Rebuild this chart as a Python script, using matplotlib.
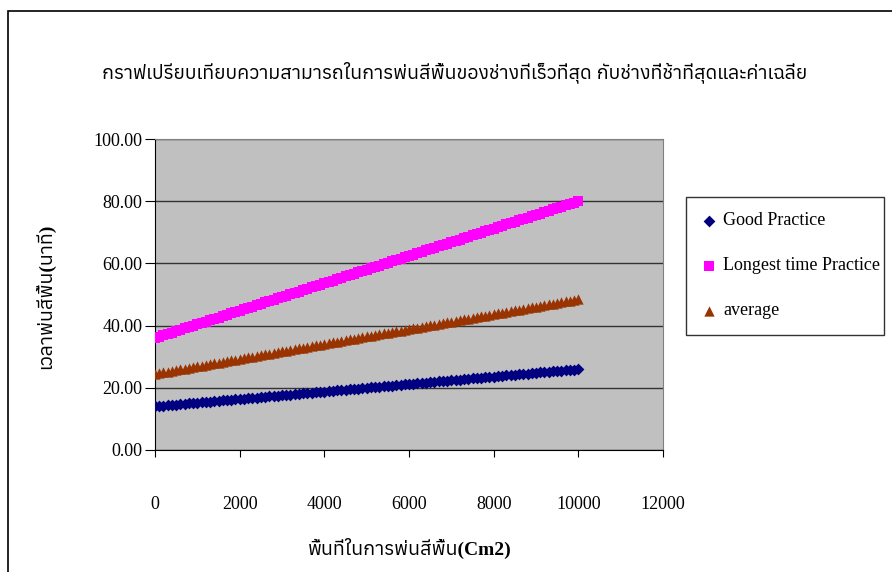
import matplotlib
matplotlib.use("Agg")
import matplotlib.pyplot as plt
from matplotlib import font_manager
from matplotlib.ft2font import FT2Font
from matplotlib.patches import Rectangle

# area sprayed (cm2)
area = list(range(0, 10100, 100))

good = [14.00, 14.12, 14.24, 14.36, 14.48, 14.60, 14.72, 14.84, 14.96, 15.08,
        15.20, 15.32, 15.44, 15.56, 15.68, 15.80, 15.92, 16.04, 16.16, 16.28,
        16.40, 16.52, 16.64, 16.76, 16.88, 17.00, 17.12, 17.24, 17.36, 17.48,
        17.60, 17.72, 17.84, 17.96, 18.08, 18.20, 18.32, 18.44, 18.56, 18.68,
        18.80, 18.92, 19.04, 19.16, 19.28, 19.40, 19.52, 19.64, 19.76, 19.88,
        20.00, 20.12, 20.24, 20.36, 20.48, 20.60, 20.72, 20.84, 20.96, 21.08,
        21.20, 21.32, 21.44, 21.56, 21.68, 21.80, 21.92, 22.04, 22.16, 22.28,
        22.40, 22.52, 22.64, 22.76, 22.88, 23.00, 23.12, 23.24, 23.36, 23.48,
        23.60, 23.72, 23.84, 23.96, 24.08, 24.20, 24.32, 24.44, 24.56, 24.68,
        24.80, 24.92, 25.04, 25.16, 25.28, 25.40, 25.52, 25.64, 25.76, 25.88,
        26.00]

longest = [36.00, 36.44, 36.88, 37.32, 37.76, 38.20, 38.64, 39.08, 39.52, 39.96,
           40.40, 40.84, 41.28, 41.72, 42.16, 42.60, 43.04, 43.48, 43.92, 44.36,
           44.80, 45.24, 45.68, 46.12, 46.56, 47.00, 47.44, 47.88, 48.32, 48.76,
           49.20, 49.64, 50.08, 50.52, 50.96, 51.40, 51.84, 52.28, 52.72, 53.16,
           53.60, 54.04, 54.48, 54.92, 55.36, 55.80, 56.24, 56.68, 57.12, 57.56,
           58.00, 58.44, 58.88, 59.32, 59.76, 60.20, 60.64, 61.08, 61.52, 61.96,
           62.40, 62.84, 63.28, 63.72, 64.16, 64.60, 65.04, 65.48, 65.92, 66.36,
           66.80, 67.24, 67.68, 68.12, 68.56, 69.00, 69.44, 69.88, 70.32, 70.76,
           71.20, 71.64, 72.08, 72.52, 72.96, 73.40, 73.84, 74.28, 74.72, 75.16,
           75.60, 76.04, 76.48, 76.92, 77.36, 77.80, 78.24, 78.68, 79.12, 79.56,
           80.00]

average = [24.50, 24.74, 24.98, 25.22, 25.46, 25.70, 25.94, 26.18, 26.42, 26.66,
           26.90, 27.14, 27.38, 27.62, 27.86, 28.10, 28.34, 28.58, 28.82, 29.06,
           29.30, 29.54, 29.78, 30.02, 30.26, 30.50, 30.74, 30.98, 31.22, 31.46,
           31.70, 31.94, 32.18, 32.42, 32.66, 32.90, 33.14, 33.38, 33.62, 33.86,
           34.10, 34.34, 34.58, 34.82, 35.06, 35.30, 35.54, 35.78, 36.02, 36.26,
           36.50, 36.74, 36.98, 37.22, 37.46, 37.70, 37.94, 38.18, 38.42, 38.66,
           38.90, 39.14, 39.38, 39.62, 39.86, 40.10, 40.34, 40.58, 40.82, 41.06,
           41.30, 41.54, 41.78, 42.02, 42.26, 42.50, 42.74, 42.98, 43.22, 43.46,
           43.70, 43.94, 44.18, 44.42, 44.66, 44.90, 45.14, 45.38, 45.62, 45.86,
           46.10, 46.34, 46.58, 46.82, 47.06, 47.30, 47.54, 47.78, 48.02, 48.26,
           48.50]

series_names = ['Good Practice', 'Longest time Practice', 'average']
title = 'กราฟเปรียบเทียบความสามารถในการพ่นสีพื้นของช่างที่เร็วที่สุด กับช่างที่ช้าที่สุดและค่าเฉลี่ย'
xlabel = 'พื้นที่ในการพ่นสีพื้น(Cm2)'
ylabel = 'เวลาพ่นสีพื้น(นาที)'


def find_thai_font():
    found = []
    for f in font_manager.fontManager.ttflist:
        try:
            if ord('ก') in FT2Font(f.fname).get_charmap():
                found.append(f.name)
        except Exception:
            pass
    return sorted(set(found))


thai_fonts = find_thai_font()
plt.rcParams['font.family'] = ['Liberation Serif'] + thai_fonts + ['DejaVu Sans']

fig = plt.figure(figsize=(8.92, 5.72), dpi=100)
W, H = 892, 572

# outer chart border (right/bottom edges fall outside the picture)
fig.patches.append(Rectangle((8 / W, -0.1), 1.2, 1.1 - 11 / H, transform=fig.transFigure,
                             fill=False, edgecolor='black', linewidth=1.2))

ax = fig.add_axes([155 / W, 1 - 450 / H, (663 - 155) / W, (450 - 139) / H])
ax.set_facecolor('#C0C0C0')

ax.scatter(area, good, marker='D', s=36, color='#000080', label=series_names[0], zorder=3, linewidths=0)
ax.scatter(area, longest, marker='s', s=50, color='#FF00FF', label=series_names[1], zorder=3, linewidths=0)
ax.scatter(area, average, marker='^', s=55, color='#993300', label=series_names[2], zorder=3, linewidths=0)

ax.set_xlim(0, 12000)
ax.set_ylim(0, 100)
ax.set_xticks(range(0, 12001, 2000))
ax.set_yticks(range(0, 101, 20))
ax.set_yticklabels([f'{v:.2f}' for v in range(0, 101, 20)])
ax.yaxis.grid(True, color='#333333', linewidth=1)
ax.set_axisbelow(True)
for s in ['top', 'right']:
    ax.spines[s].set_color('#808080')
for s in ['left', 'bottom']:
    ax.spines[s].set_color('black')
ax.tick_params(axis='both', direction='out', labelsize=13)
ax.tick_params(axis='y', length=7, pad=2)
ax.tick_params(axis='x', length=5, pad=28)

fig.text(455 / W, 1 - 72 / H, title, ha='center', va='center', fontsize=14, fontweight='bold')
fig.text(410 / W, 1 - 548 / H, xlabel, ha='center', va='center', fontsize=14, fontweight='bold')
fig.text(45 / W, 1 - 296 / H, ylabel, ha='center', va='center', rotation=90, fontsize=14, fontweight='bold')

leg = ax.legend(loc='upper left', bbox_to_anchor=(686 / W, 1 - 335 / H, (884 - 686) / W, (335 - 197) / H),
                bbox_transform=fig.transFigure, mode='expand', frameon=True, fancybox=False,
                fontsize=13, handletextpad=0.3, labelspacing=1.55, borderpad=0.85, handlelength=0.9,
                borderaxespad=0)
leg.get_frame().set_edgecolor('black')
leg.get_frame().set_linewidth(1)

fig.savefig('out.png', dpi=100)
